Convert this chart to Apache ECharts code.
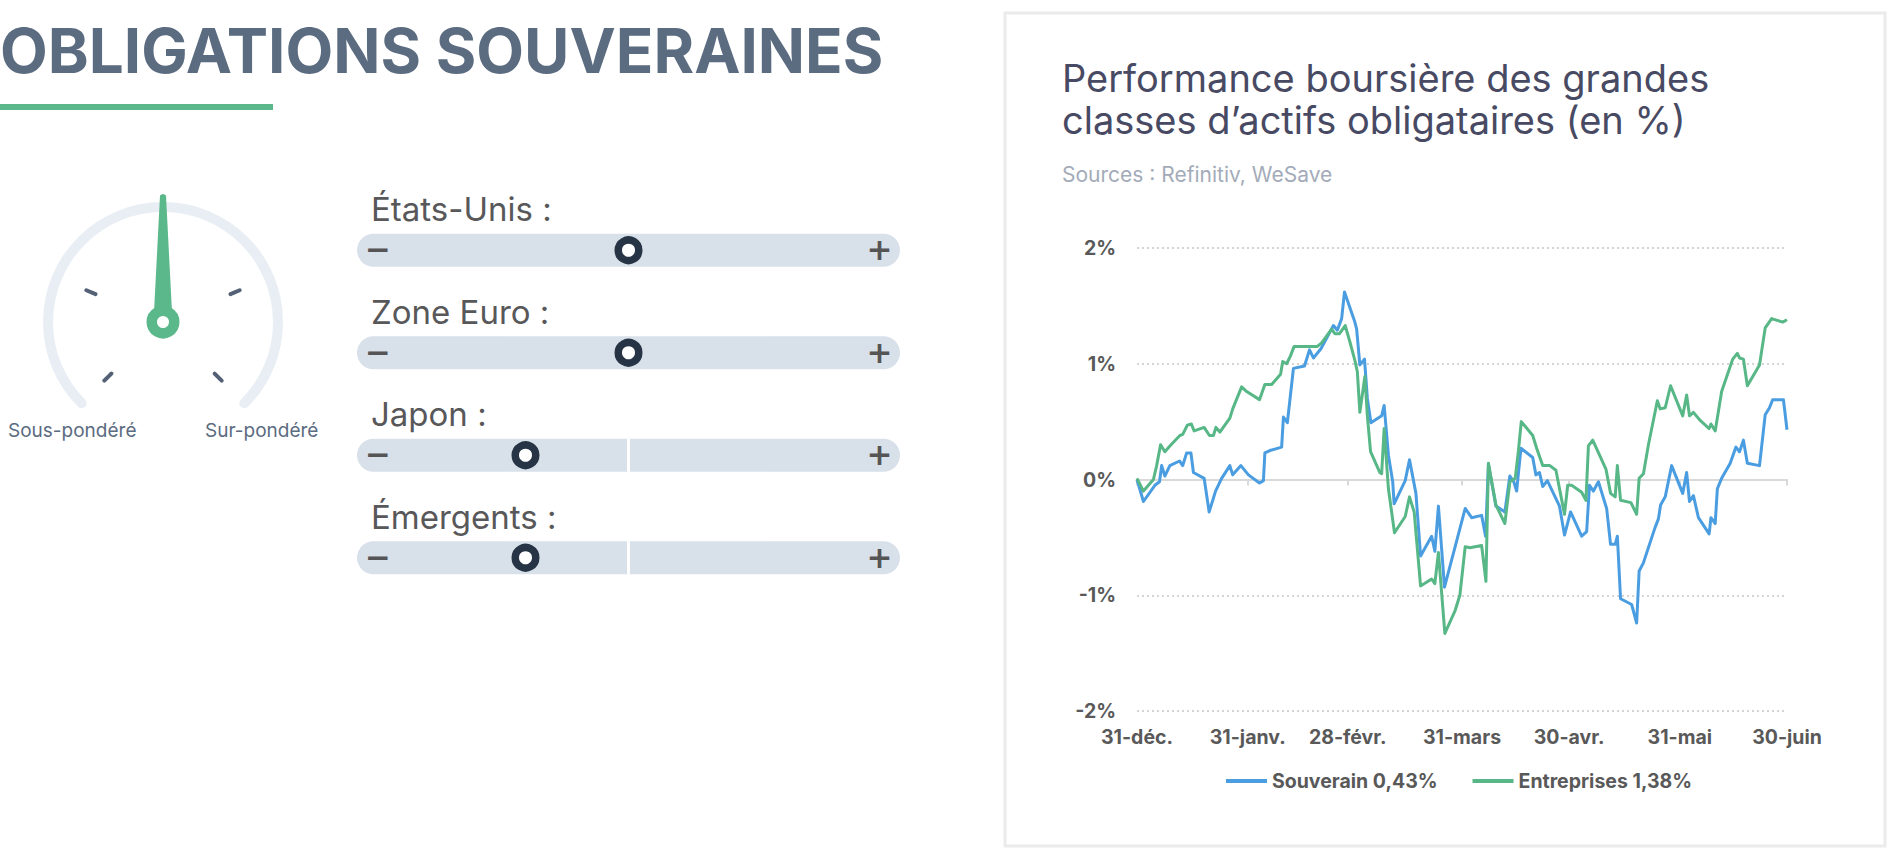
<!DOCTYPE html>
<html lang="fr">
<head>
<meta charset="utf-8">
<title>Obligations souveraines</title>
<script src="https://cdn.jsdelivr.net/npm/echarts@6.0.0/dist/echarts.min.js"></script>
<style>
  html, body { margin: 0; padding: 0; background: #fff; }
  #page { width: 1890px; height: 850px; }
</style>
</head>
<body>
<div id="page"></div>
<script>
// jauge globale (0 = sous-pondéré, 100 = sur-pondéré)
const gaugeValue = 50;

// curseurs par zone (-1 = moins, 0 = neutre, 1 = plus)
const sliderNames = ['États-Unis :', 'Zone Euro :', 'Japon :', 'Émergents :'];
const sliderValues = [0, 0, -0.4, -0.4];

// axe des dates : jours depuis le 31 décembre
const tickDays = [0, 31, 59, 91, 121, 152, 182];
const tickLabels = ['31-déc.', '31-janv.', '28-févr.', '31-mars', '30-avr.', '31-mai', '30-juin'];

const souverainDays = [0, 1.8, 5.0, 6.3, 6.9, 7.8, 9.2, 11.9, 12.8, 13.9, 15.1, 15.8, 18.8, 20.2, 22.0, 23.7, 26.0, 26.8, 29.1, 31.2,
  34.3, 35.4, 35.8, 37.2, 40.5, 41.0, 42.1, 43.8, 46.9, 48.3, 49.4, 51.5, 55.0, 56.1, 57.3, 58.1, 61.0, 61.5, 62.4, 63.7,
  64.5, 65.5, 68.5, 69.2, 70.4, 71.6, 72.0, 75.1, 76.3, 78.1, 79.4, 82.5, 83.4, 84.4, 86.1, 91.9, 93.7, 96.5, 97.6, 98.4,
  100.5, 103.0, 104.4, 105.5, 106.3, 107.5, 110.8, 111.7, 112.7, 113.6, 114.9, 118.3, 119.7, 121.4, 124.5, 125.9, 126.7, 127.8, 129.2, 131.5,
  132.6, 133.9, 134.5, 135.4, 138.5, 139.9, 140.6, 141.8, 145.0, 146.0, 146.6, 147.9, 149.7, 152.8, 153.9, 154.7, 155.8, 157.2, 160.2, 160.7,
  161.9, 162.5, 163.7, 166.1, 167.7, 168.7, 169.8, 170.9, 174.3, 175.9, 177.1, 178.0, 181.0, 182];
const souverainValues = [0.00, -0.19, -0.05, -0.02, 0.12, 0.03, 0.12, 0.16, 0.12, 0.23, 0.23, 0.06, 0.01, -0.28, -0.10, 0.01, 0.12, 0.04, 0.12, 0.04,
  -0.03, -0.01, 0.23, 0.25, 0.28, 0.54, 0.49, 0.96, 0.98, 1.12, 1.05, 1.13, 1.33, 1.29, 1.39, 1.62, 1.36, 1.30, 0.99, 1.04,
  0.70, 0.49, 0.55, 0.64, 0.21, -0.02, -0.21, -0.01, 0.17, -0.12, -0.66, -0.49, -0.62, -0.23, -0.93, -0.25, -0.33, -0.31, -0.49, 0.13,
  -0.23, -0.28, 0.03, -0.02, -0.10, 0.27, 0.19, 0.04, 0.06, -0.06, -0.01, -0.23, -0.48, -0.28, -0.49, -0.45, -0.05, -0.10, -0.02, -0.25,
  -0.56, -0.56, -0.49, -1.03, -1.08, -1.24, -0.79, -0.72, -0.42, -0.34, -0.22, -0.15, 0.12, -0.12, 0.06, -0.19, -0.14, -0.33, -0.47, -0.33,
  -0.38, -0.08, 0.01, 0.14, 0.28, 0.24, 0.34, 0.14, 0.12, 0.56, 0.62, 0.69, 0.69, 0.43];

const entreprisesDays = [0, 1.8, 4.6, 5.5, 6.6, 7.8, 9.2, 12.0, 12.8, 14.1, 15.2, 16.0, 18.8, 20.3, 21.4, 22.1, 23.2, 26.0, 26.8, 29.3,
  30.7, 34.3, 35.8, 37.7, 40.2, 40.8, 41.9, 43.0, 44.0, 50.5, 51.7, 54.5, 55.4, 56.7, 58.3, 59.6, 61.0, 61.7, 62.4, 63.8,
  64.5, 65.4, 68.0, 68.5, 69.2, 70.4, 72.1, 75.1, 76.3, 77.6, 79.4, 82.5, 83.4, 84.4, 86.2, 89.1, 90.4, 91.9, 93.2, 96.5,
  97.7, 98.4, 100.5, 103.0, 104.4, 105.9, 106.8, 107.6, 110.8, 111.9, 113.6, 115.6, 117.3, 119.7, 120.6, 121.7, 124.5, 125.7, 126.4, 127.6,
  131.3, 132.6, 133.9, 134.5, 135.4, 138.3, 139.9, 140.6, 141.8, 143.2, 145.7, 146.5, 147.9, 149.4, 152.8, 153.9, 154.7, 155.8, 157.7, 160.2,
  160.7, 161.9, 163.7, 166.8, 168.1, 168.7, 169.8, 170.9, 174.3, 175.9, 177.7, 180.8, 182];
const entreprisesValues = [0.01, -0.10, 0.00, 0.12, 0.30, 0.24, 0.29, 0.38, 0.39, 0.47, 0.48, 0.42, 0.45, 0.38, 0.38, 0.45, 0.41, 0.53, 0.61, 0.80,
  0.76, 0.69, 0.82, 0.82, 0.91, 1.02, 1.00, 1.07, 1.15, 1.15, 1.18, 1.30, 1.26, 1.26, 1.33, 1.19, 1.03, 0.93, 0.58, 0.89,
  0.55, 0.24, 0.06, 0.05, 0.44, -0.08, -0.46, -0.32, -0.15, -0.28, -0.92, -0.86, -0.90, -0.63, -1.33, -1.13, -1.00, -0.58, -0.59, -0.57,
  -0.88, 0.14, -0.22, -0.38, -0.02, 0.01, 0.25, 0.50, 0.38, 0.27, 0.12, 0.12, 0.08, -0.30, -0.05, -0.05, -0.11, -0.18, 0.29, 0.34,
  0.09, -0.12, -0.15, 0.12, -0.18, -0.20, -0.30, 0.01, 0.05, 0.30, 0.68, 0.61, 0.62, 0.81, 0.55, 0.73, 0.55, 0.58, 0.51, 0.44,
  0.48, 0.42, 0.76, 1.04, 1.09, 1.05, 1.04, 0.81, 0.99, 1.31, 1.39, 1.36, 1.38];

const seriesNames = ['Souverain 0,43%', 'Entreprises 1,38%'];

const BLUE = '#4a9de0';
const GREEN = '#57b786';
const SLATE = '#5b6b80';
const AXIS_TEXT = '#595959';

function renderSlider(params, api) {
  const row = api.value(1);
  const level = api.value(0);
  const cy = api.coord([0, row])[1];
  const left = api.coord([-1, row])[0];
  const right = api.coord([1, row])[0];
  const mid = api.coord([0, row])[0];
  const knob = api.coord([level, row])[0];
  const children = [
    {type: 'rect', shape: {x: left - 14, y: cy - 16.5, width: right - left + 28, height: 33, r: 16.5}, style: {fill: '#d8e0ea'}}
  ];
  // repère du neutre quand le curseur n'y est pas
  if (level !== 0) {
    children.push({type: 'rect', shape: {x: mid - 1.5, y: cy - 16.5, width: 3, height: 33}, style: {fill: '#fff'}});
  }
  children.push(
    {type: 'text', style: {text: sliderNames[row], x: left, y: cy - 41, align: 'left', verticalAlign: 'middle',
      font: '33px Inter', fill: '#58585a'}},
    {type: 'text', style: {text: '−', x: left + 7, y: cy - 1, align: 'center', verticalAlign: 'middle',
      font: 'bold 31px "DejaVu Sans"', fill: '#555555'}},
    {type: 'text', style: {text: '+', x: right - 6.5, y: cy - 1, align: 'center', verticalAlign: 'middle',
      font: 'bold 31px "DejaVu Sans"', fill: '#555555'}},
    {type: 'circle', shape: {cx: knob, cy: cy, r: 10.25}, style: {fill: '#fff', stroke: '#263445', lineWidth: 7.5}}
  );
  return {type: 'group', children: children};
}

const chart = echarts.init(document.getElementById('page'), null, {renderer: 'svg', width: 1890, height: 850});

chart.setOption({
  animation: false,
  backgroundColor: '#fff',
  graphic: [
    {type: 'text', x: 0, y: 50, style: {text: 'OBLIGATIONS SOUVERAINES', font: 'bold 62px Inter', fill: SLATE, verticalAlign: 'middle'}},
    {type: 'rect', shape: {x: 0, y: 104, width: 273, height: 6}, style: {fill: '#5cb88a'}},
    {type: 'text', x: 8, y: 430, style: {text: 'Sous-pondéré', font: '19px Inter', fill: SLATE, verticalAlign: 'middle'}},
    {type: 'text', x: 205, y: 430, style: {text: 'Sur-pondéré', font: '19px Inter', fill: SLATE, verticalAlign: 'middle'}},
    {type: 'rect', shape: {x: 1005, y: 13, width: 880, height: 833}, style: {fill: 'none', stroke: '#ebebeb', lineWidth: 3}},
    {type: 'text', x: 1062, y: 78, style: {text: 'Performance boursière des grandes', font: '38px Inter', fill: '#484a63', verticalAlign: 'middle'}},
    {type: 'text', x: 1062, y: 120, style: {text: 'classes d’actifs obligataires (en %)', font: '38px Inter', fill: '#484a63', verticalAlign: 'middle'}},
    {type: 'text', x: 1062, y: 174, style: {text: 'Sources : Refinitiv, WeSave', font: '21px Inter', fill: '#a3abb9', verticalAlign: 'middle'}}
  ],
  legend: {
    data: seriesNames,
    left: 1221,
    top: 766,
    icon: 'rect',
    itemWidth: 41,
    itemHeight: 4,
    itemGap: 35,
    textStyle: {color: AXIS_TEXT, fontFamily: 'Inter', fontWeight: 'bold', fontSize: 19.5}
  },
  grid: [
    {left: 1137, top: 248, width: 650, height: 463},
    {left: 371, top: 199, width: 515, height: 410}
  ],
  xAxis: [
    {
      type: 'value', gridIndex: 0, min: 0, max: 182, position: 'bottom',
      axisLine: {show: false, onZero: false},
      axisTick: {show: false},
      splitLine: {show: false},
      axisLabel: {
        customValues: tickDays,
        formatter: v => tickLabels[tickDays.indexOf(v)],
        color: AXIS_TEXT, fontFamily: 'Inter', fontWeight: 'bold', fontSize: 19.5, margin: 16
      }
    },
    {
      type: 'value', gridIndex: 0, min: 0, max: 182, position: 'bottom',
      axisLine: {show: true, onZero: true, lineStyle: {color: '#d9d9d9', width: 2}},
      axisTick: {show: true, customValues: tickDays, length: 6, lineStyle: {color: '#d9d9d9', width: 2}},
      axisLabel: {show: false},
      splitLine: {show: false}
    },
    {type: 'value', gridIndex: 1, min: -1, max: 1, show: false}
  ],
  yAxis: [
    {
      type: 'value', gridIndex: 0, min: -2, max: 2, interval: 1,
      axisLine: {show: false},
      axisTick: {show: false},
      axisLabel: {formatter: '{value}%', color: AXIS_TEXT, fontFamily: 'Inter', fontWeight: 'bold', fontSize: 19.5, margin: 21},
      splitLine: {lineStyle: {color: '#d4d4d4', width: 2, type: [2, 3]}}
    },
    {type: 'category', gridIndex: 1, data: sliderNames, inverse: true, show: false}
  ],
  series: [
    {
      type: 'gauge',
      center: [163, 322],
      radius: 120,
      startAngle: 225,
      endAngle: -45,
      min: 0,
      max: 100,
      splitNumber: 4,
      axisLine: {roundCap: true, lineStyle: {width: 10, color: [[1, '#e8eef4']]}},
      axisTick: {show: false},
      splitLine: {show: true, length: 10, distance: 27, lineStyle: {color: '#546075', width: 4, cap: 'round'}},
      axisLabel: {show: false},
      pointer: {icon: 'path://M6.5,2 Q9.5,-1 12.5,2 L19,128 L0,128 Z', length: 128, width: 19, itemStyle: {color: '#5bb88a'}},
      anchor: {show: true, showAbove: true, size: 22.5, itemStyle: {color: '#fff', borderColor: '#5bb88a', borderWidth: 10.5}},
      title: {show: false},
      detail: {show: false},
      data: [{value: gaugeValue}]
    },
    {
      type: 'custom',
      xAxisIndex: 2,
      yAxisIndex: 1,
      clip: false,
      renderItem: renderSlider,
      data: sliderValues.map((v, i) => [v, i])
    },
    {
      name: seriesNames[0],
      type: 'line',
      xAxisIndex: 0,
      yAxisIndex: 0,
      showSymbol: false,
      symbol: 'none',
      color: BLUE,
      lineStyle: {width: 3, color: BLUE, join: 'round'},
      data: souverainDays.map((d, i) => [d, souverainValues[i]])
    },
    {
      name: seriesNames[1],
      type: 'line',
      xAxisIndex: 0,
      yAxisIndex: 0,
      showSymbol: false,
      symbol: 'none',
      color: GREEN,
      lineStyle: {width: 3, color: GREEN, join: 'round'},
      data: entreprisesDays.map((d, i) => [d, entreprisesValues[i]])
    }
  ]
});
</script>
</body>
</html>
